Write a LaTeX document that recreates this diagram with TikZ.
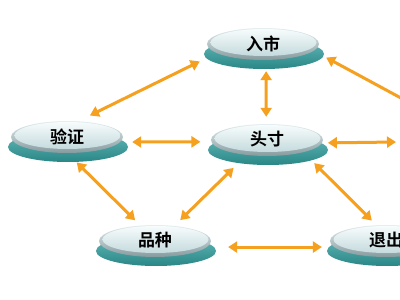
\documentclass[tikz,border=0pt]{standalone}
\usepackage{fontspec}
\newfontfamily\cjk{Noto Sans CJK SC}[BoldFont={Noto Sans CJK SC Bold}]
\usetikzlibrary{arrows.meta,shapes.geometric}
\definecolor{arrcol}{HTML}{F5A01E}
\definecolor{basetop}{HTML}{62B8B8}
\definecolor{basebot}{HTML}{2A8686}
\definecolor{rimtop}{HTML}{E4EEF0}
\definecolor{rimbot}{HTML}{869A9E}
\definecolor{surftop}{HTML}{F7FCFC}
\definecolor{surfbot}{HTML}{C4DADD}
\tikzset{
  arr/.style={draw=arrcol, line width=3pt, {Triangle[length=9pt,width=11pt]}-{Triangle[length=9pt,width=11pt]}},
  hit/.style={ellipse, minimum width=122pt, minimum height=44pt, inner sep=0pt, draw=none},
  lbl/.style={font=\cjk\bfseries\fontsize{17}{17}\selectfont, text=black}
}
\newcommand\mydisk[4]{%
  \shade[top color=basetop, bottom color=basebot] (#2+1,#3+5) ellipse [x radius=60, y radius=15];
  \shade[top color=rimtop, bottom color=rimbot] (#2,#3-5) ellipse [x radius=56, y radius=16];
  \shade[top color=surftop, bottom color=surfbot] (#2+0.5,#3-6.5) ellipse [x radius=53, y radius=13.5];
  \node[hit] (#1) at (#2,#3) {};
  \node[lbl] at ([yshift=5.5pt]#1.center) {#4};
}
\begin{document}
\begin{tikzpicture}[x=1pt,y=-1pt]
\fill[white] (0,0) rectangle (400,300);
\clip (0,0) rectangle (400,300);
\useasboundingbox (0,0) rectangle (400,300);
\mydisk{rs}{263}{49}{入市}
\mydisk{yz}{67}{142}{验证}
\mydisk{tc}{267}{145}{头寸}
\mydisk{pz}{155}{246}{品种}
\mydisk{tcu}{386}{246}{退出}
\coordinate (r1) at (425,111);
\coordinate (r2) at (396,142);
% connectors
\draw[arr, shorten <=8pt, shorten >=11pt] (rs.189.9) -- (yz.59.9);
\draw[arr, shorten <=0pt, shorten >=6pt] (rs.278) -- (tc.92);
\draw[arr, shorten <=5pt] (rs.354.6) -- (r1);
\draw[arr, shorten <=4pt, shorten >=6pt] (yz.0) -- (tc.177.4);
\draw[arr] (tc.2.8) -- (r2);
\draw[arr, shorten <=-2pt, shorten >=6pt] (yz.-63.4) -- (pz.126.2);
\draw[arr, shorten <=5pt, shorten >=7pt] (tc.213.3) -- (pz.46.1);
\draw[arr, shorten <=4pt, shorten >=5pt] (tc.-19.9) -- (tcu.116.6);
\draw[arr, shorten <=12pt, shorten >=3pt] (pz.-1.6) -- (tcu.181.8);
\end{tikzpicture}
\end{document}
